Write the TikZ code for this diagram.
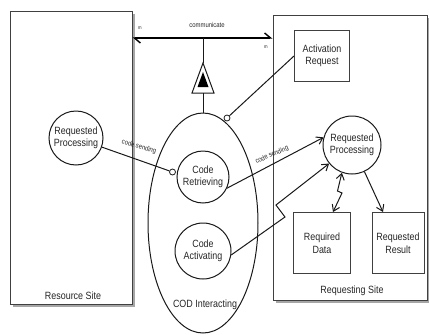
\documentclass[tikz,border=0pt]{standalone}
\usepackage{fontspec}
\setmainfont{Liberation Sans}[FakeStretch=0.85]
\usetikzlibrary{arrows.meta,shapes.geometric,shadows,calc}

\tikzset{
  lbl/.style={font=\fontsize{10.5}{12.5}\selectfont, align=center, text=black!85},
  small/.style={font=\fontsize{7}{8}\selectfont, text=black!85, inner sep=0pt},
  tiny/.style={font=\fontsize{5}{6}\selectfont, text=black!85, inner sep=0pt},
  site/.style={draw=black!75, line width=1pt, fill=white, rectangle, inner sep=0pt,
    drop shadow={shadow xshift=3pt, shadow yshift=-3pt, opacity=1, fill=black!35}},
  usecase/.style={lbl, draw=black!90, line width=1pt, circle, inner sep=0pt},
  entity/.style={lbl, draw=black!75, line width=1pt, rectangle, inner sep=0pt},
  socket/.style={draw=black!90, line width=0.8pt, circle, fill=white, minimum size=6pt, inner sep=0pt},
  wire/.style={draw=black!90, line width=1pt},
  flow/.style={wire, -{Straight Barb[length=6pt,width=8pt]}},
  bothflow/.style={wire, {Straight Barb[length=6pt,width=8pt]}-{Straight Barb[length=6pt,width=8pt]}},
  commlink/.style={draw=black, line width=1.4pt,
    {Straight Barb[harpoon,length=6pt,width=10pt]}-{Straight Barb[harpoon,length=6pt,width=10pt]}},
}

\begin{document}
\begin{tikzpicture}[x=1pt, y=-1pt]
\useasboundingbox (0,0) rectangle (429,335);

% the two sites
\node[site, minimum width=122pt, minimum height=293pt] (rsite) at (71,157.5) {};
\node[site, minimum width=154pt, minimum height=285pt] (qsite) at (350,157.5) {};
\node[lbl] (rsitelbl) at (73,296) {Resource Site};
\node[lbl] (qsitelbl) at (352,291) {Requesting Site};

% COD interaction and its use cases
\node[draw=black!90, line width=1pt, ellipse, minimum width=110pt, minimum height=220pt, inner sep=0pt] (cod) at (203,223) {};
\node[lbl] (codlbl) at (205,305) {COD Interacting};
\node[usecase, minimum size=52pt] (cr) at (203,177) {Code\\Retrieving};
\node[usecase, minimum size=56pt] (ca) at (203,251) {Code\\Activating};

% resource side
\node[usecase, minimum size=54pt] (rpL) at (76,138) {Requested\\Processing};

% requesting side
\node[entity, minimum width=55pt, minimum height=51pt] (ar) at (322,56) {Activation\\Request};
\node[usecase, minimum size=58pt] (rpR) at (352,145) {Requested\\Processing};
\node[entity, minimum width=57pt, minimum height=61pt] (rd) at (322,243) {Required\\Data};
\node[entity, minimum width=52pt, minimum height=61pt] (rr) at (398,243) {Requested\\Result};

% sockets
\node[socket] (s1) at (172.5,172) {};
\node[socket] (s2) at (227,118) {};

% communicate association with its ternary symbol
\coordinate (cm) at (203,38);
\draw[commlink] (cm -| rsite.east) -- (cm -| qsite.west);
\node[small] (commlbl) at (207,25) {communicate};
\node[tiny] (m1) at (140,28) {m};
\node[tiny] (m2) at (266,47) {m};

\coordinate (apex) at (203,63);
\coordinate (base) at (203,93);
\draw[wire] (cm) -- (apex);
\draw[draw=black!90, line width=1pt, fill=white] (apex) -- (214,93) -- (192,93) -- cycle;
\fill[black] (203,72) -- (208.5,87) -- (197.5,87) -- cycle;
\draw[wire] (base) -- (cod.north);

% connectors
\draw[wire] (rpL) -- (s1);
\node[small, rotate=-16] (cs1) at (139,147) {code sending};
\draw[wire] (ar.west) -- (s2);

\draw[flow] (cr.-25) -- (rpR.165);
\node[small, rotate=24] (cs2) at (272,155) {code sending};

\coordinate (z1) at (285,217);
\coordinate (z2) at (276,205);
\draw[flow] (ca.-8) -- (z1) -- (z2) -- (rpR.219);

\coordinate (y1) at (337.5,191);
\coordinate (y2) at (342,193);
\draw[bothflow] (rpR.-110) -- (y1) -- (y2) -- ($(rd.north)+(11,0)$);
\draw[flow] (rpR.-65) -- ($(rr.north)+(-15,0)$);
\end{tikzpicture}
\end{document}
